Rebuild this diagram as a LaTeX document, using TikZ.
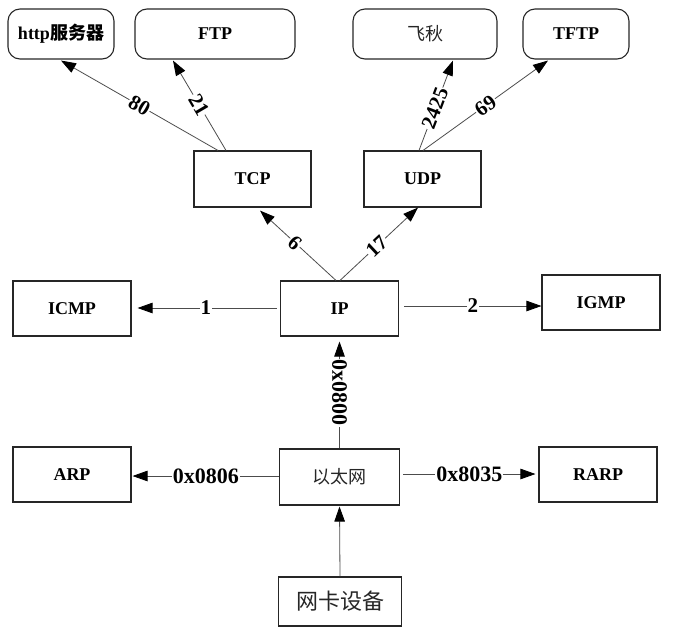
\documentclass[tikz,border=0pt]{standalone}
\usepackage{fontspec}
\setmainfont{Liberation Serif}
\newfontfamily\cjk{Noto Sans CJK SC}
\usetikzlibrary{arrows.meta}

\begin{document}
\begin{tikzpicture}[x=1pt,y=-1pt,
  box/.style={draw=black!85,line width=1.1pt,inner sep=0pt,
    minimum width=118pt,minimum height=55pt,
    font=\fontsize{18}{20}\selectfont\bfseries},
  rbox/.style={box,rounded corners=12pt,minimum height=50pt},
  cjktext/.style={font=\cjk\fontsize{18}{20}\selectfont,text=black!85},
  link/.style={draw=black!70,line width=0.8pt,
    -{Triangle[length=15pt,width=10.5pt,color=black]}},
  port/.style={fill=white,inner sep=1pt,text=black,
    font=\fontsize{21}{22}\selectfont\bfseries},
  hexport/.style={port,font=\fontsize{22}{24}\selectfont\bfseries}
]
\useasboundingbox (0,0) rectangle (676,643);

% application layer
\node[rbox,minimum width=106pt] (http) at (61,34) {http{\cjk 服务器}};
\node[rbox,minimum width=160pt] (ftp)  at (215,34) {FTP};
\node[rbox,minimum width=144pt,cjktext] (feiq) at (425,34) {飞秋};
\node[rbox,minimum width=106pt] (tftp) at (576,34) {TFTP};

% transport layer
\node[box,minimum width=117pt,minimum height=56pt] (tcp) at (252.5,179) {TCP};
\node[box,minimum width=117pt,minimum height=56pt] (udp) at (422.5,179) {UDP};

% network layer
\node[box] (icmp) at (72,308.5)    {ICMP};
\node[box] (ip)   at (339.5,308.5) {IP};
\node[box] (igmp) at (601,302.5)   {IGMP};

% link layer
\node[box] (arp)  at (72,474.5) {ARP};
\node[box,minimum width=120pt,minimum height=56pt,cjktext] (eth) at (339.5,477) {以太网};
\node[box] (rarp) at (598,474.5) {RARP};
\node[box,minimum width=123pt,minimum height=49pt,cjktext,
  font=\cjk\fontsize{22}{24}\selectfont] (nic) at (340,601.5) {网卡设备};

% TCP / UDP ports
\draw[link] ([shift={(-34.5,0)}]tcp.north) -- node[port,sloped,pos=.5]{80} ([shift={(0,1)}]http.south);
\draw[link] ([shift={(-26.5,0)}]tcp.north) -- node[port,sloped,pos=.51]{21} ([shift={(-42,1)}]ftp.south);
\draw[link] ([shift={(-3.5,0)}]udp.north) -- node[port,sloped,pos=.47]{2425} ([shift={(28,1)}]feiq.south);
\draw[link] ([shift={(0.5,0)}]udp.north) -- node[port,sloped,pos=.5]{69} ([shift={(-28,1)}]tftp.south);

% IP protocol numbers
\draw[link] ([shift={(-3.5,0)}]ip.north) -- node[port,sloped,pos=.54]{6} ([shift={(7.5,3)}]tcp.south);
\draw[link] ([shift={(0.5,0)}]ip.north) -- node[port,sloped,pos=.47]{17} ([shift={(-4.5,0)}]udp.south);
\draw[link] ([shift={(-3,-0.5)}]ip.west) -- node[port,pos=.51]{1} ([shift={(6,-0.5)}]icmp.east);
\draw[link] ([shift={(5,-2.5)}]ip.east) -- node[port,pos=.5]{2} ([shift={(0,3.5)}]igmp.west);

% Ethernet types
\draw[link] (eth.north) -- node[hexport,pos=.52,rotate=-90]{0x0800} ([shift={(0,5)}]ip.south);
\draw[link] ([shift={(0,-1)}]eth.west) -- node[hexport,pos=.5]{0x0806} ([shift={(1,1.5)}]arp.east);
\draw[link] ([shift={(3,-3)}]eth.east) -- node[hexport,pos=.5]{0x8035} ([shift={(-3,-0.5)}]rarp.west);
\draw[link] (nic.north) -- ([shift={(0,1)}]eth.south);
\end{tikzpicture}
\end{document}
